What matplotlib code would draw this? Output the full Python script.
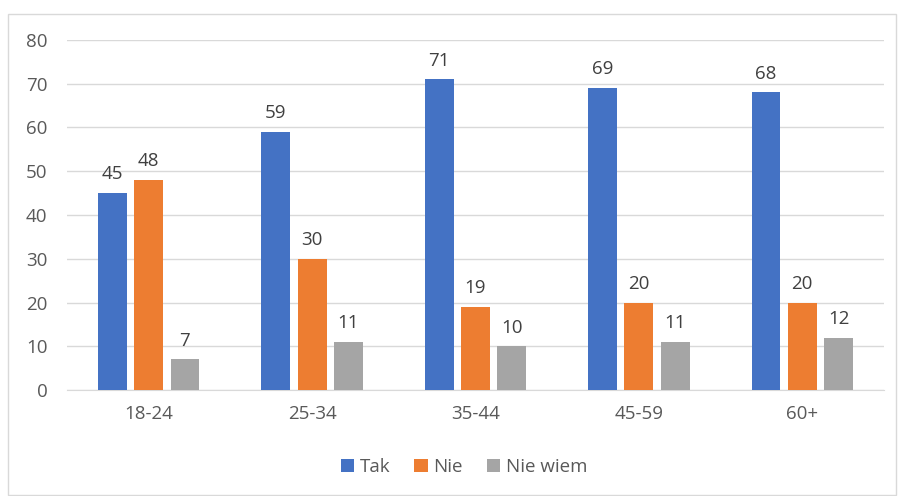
import matplotlib.pyplot as plt
import numpy as np
from matplotlib.patches import Rectangle

groups = ['18-24', '25-34', '35-44', '45-59', '60+']
series_names = ['Tak', 'Nie', 'Nie wiem']
tak = [45, 59, 71, 69, 68]
nie = [48, 30, 19, 20, 20]
nie_wiem = [7, 11, 10, 11, 12]
colors = ['#4472c4', '#ed7d31', '#a5a5a5']

plt.rcParams['font.family'] = ['Open Sans', 'DejaVu Sans']
fs = 13.5

fig = plt.figure(figsize=(8.99, 4.96), dpi=100)
W, H = 899, 496
# outer chart border
fig.patches.append(Rectangle((8 / W, 1 / H), 888 / W, (H - 14 - 1) / H,
                             transform=fig.transFigure, fill=False,
                             edgecolor='#d9d9d9', linewidth=1))

ax = fig.add_axes([67 / W, (H - 390) / H, 817 / W, 350 / H])

x = np.arange(len(groups))
width = 0.177
step = 0.222
for i, (vals, name) in enumerate(zip([tak, nie, nie_wiem], series_names)):
    pos = x + (i - 1) * step
    bars = ax.bar(pos, vals, width, color=colors[i], label=name, zorder=3)
    for b, v in zip(bars, vals):
        ax.annotate(str(v), (b.get_x() + b.get_width() / 2, v),
                    xytext=(0, 7), textcoords='offset points',
                    ha='center', va='bottom', fontsize=fs, color='#404040')

ax.set_xlim(-0.5, len(groups) - 0.5)
ax.set_ylim(0, 80)
ax.set_yticks(range(0, 81, 10))
ax.set_xticks(x)
ax.set_xticklabels(groups)
ax.grid(axis='y', color='#d9d9d9', linewidth=1, zorder=0)
for s in ['top', 'right', 'left']:
    ax.spines[s].set_visible(False)
ax.spines['bottom'].set_color('#d9d9d9')
ax.tick_params(axis='both', length=0, labelsize=fs, labelcolor='#595959')
ax.tick_params(axis='x', pad=11)
ax.tick_params(axis='y', pad=14)

ax.legend(loc='center', bbox_to_anchor=(464 / W, (H - 467) / H),
          bbox_transform=fig.transFigure, ncol=3, frameon=False,
          fontsize=fs, labelcolor='#595959', handlelength=0.7,
          handleheight=0.7, handletextpad=0.3, columnspacing=1.3)

fig.savefig('out.png', dpi=100)
